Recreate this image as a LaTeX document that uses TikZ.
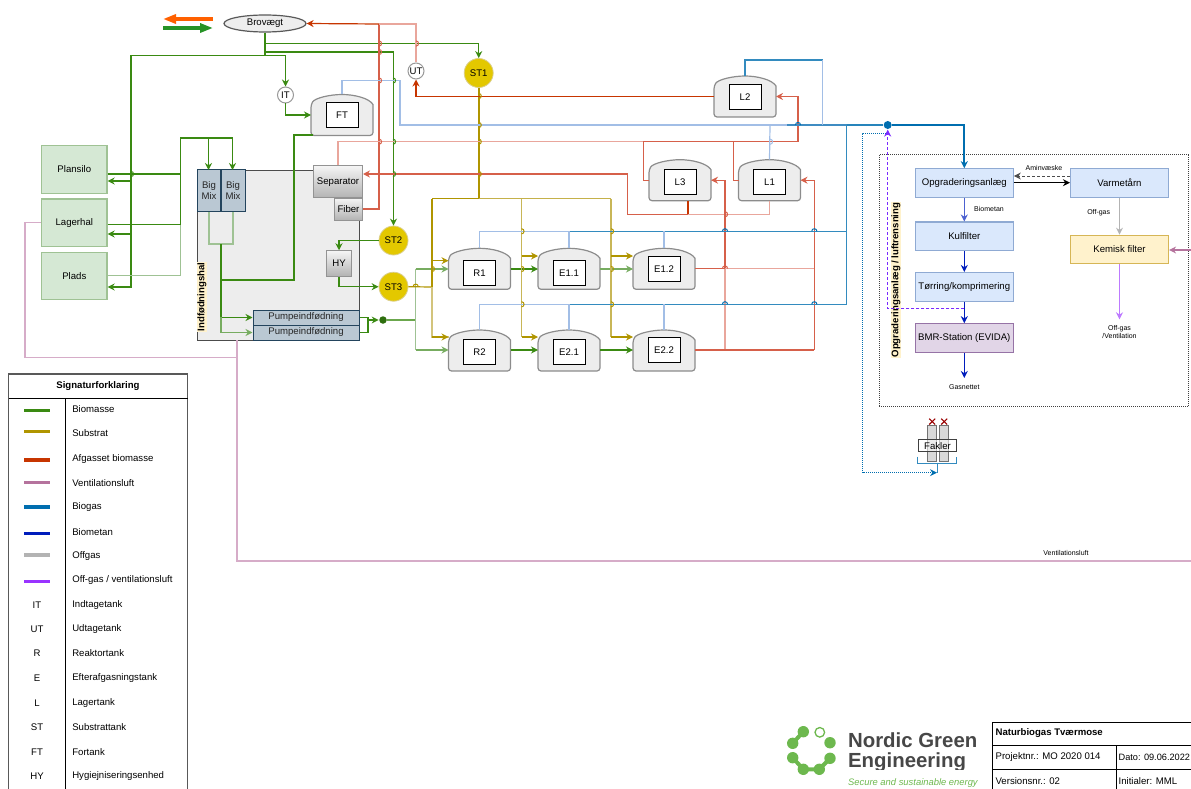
\documentclass[tikz,border=0pt]{standalone}
\usepackage{fontspec}
\setmainfont{Liberation Sans}
\usepackage{xcolor}
\usetikzlibrary{arrows.meta, positioning, shapes.geometric, calc}

\definecolor{biom}{HTML}{3A8A12}
\definecolor{biomp}{HTML}{9FC294}
\definecolor{subs}{HTML}{B09500}
\definecolor{subsp}{HTML}{D3C47C}
\definecolor{afg}{HTML}{C73500}
\definecolor{afgm}{HTML}{D6604A}
\definecolor{afgp}{HTML}{E9A69C}
\definecolor{vent}{HTML}{B5739D}
\definecolor{ventp}{HTML}{D6ACC8}
\definecolor{bgas}{HTML}{006EAF}
\definecolor{bgasm}{HTML}{3F8CC2}
\definecolor{bgasp}{HTML}{A2BEE6}
\definecolor{bmet}{HTML}{001DBC}
\definecolor{ogas}{HTML}{B3B3B3}
\definecolor{opur}{HTML}{9933FF}
\definecolor{ngreen}{HTML}{6DB84E}
\definecolor{pumpf}{HTML}{BAC8D3}
\definecolor{pumpd}{HTML}{23445D}
\definecolor{upf}{HTML}{DAE8FC}
\definecolor{upd}{HTML}{8FAAD3}
\definecolor{stf}{HTML}{E3C800}
\definecolor{silof}{HTML}{D5E8D4}
\definecolor{bmrf}{HTML}{E1D5E7}
\definecolor{bmrd}{HTML}{9673A6}
\definecolor{kemf}{HTML}{FFF2CC}
\definecolor{kemd}{HTML}{D6B656}

\newcommand{\tank}[5]{%
  \node[tankbody] (#1) at (#2,#3) {};
  \begin{scope}[shift={(#2,#3)}]
    \draw[tankline] (-31,-10.5) .. controls (-27,-17) and (-12,-20.5) .. (0,-20.5)
      .. controls (12,-20.5) and (27,-17) .. (31,-10.5)
      [rounded corners=3] -- (31,20.5) -- (-31,20.5) -- cycle;
    \node[tanklabel] (#1label) at (0,#5) {#4};
  \end{scope}
}

\tikzset{
  pics/hopv/.style={code={\draw[pic actions] (0,-2.6) .. controls (3.4,-2.6) and (3.4,2.6) .. (0,2.6);}},
  pics/hoph/.style={code={\draw[pic actions] (-2.6,0) .. controls (-2.6,-3.4) and (2.6,-3.4) .. (2.6,0);}},
}

\begin{document}
\begin{tikzpicture}[x=1pt, y=-1pt, line width=1.2pt,
    txt/.style={font=\fontsize{9.6}{11}\selectfont},
    smalltxt/.style={font=\fontsize{7}{8}\selectfont},
    silo/.style={draw=biomp, line width=1.2pt, fill=silof, txt,
      minimum width=65.5, minimum height=47.5},
    mixbox/.style={draw=pumpd, fill=pumpf, line width=1pt, txt,
      align=center, inner sep=0pt, text=black!85},
    greybox/.style={draw=gray!85, line width=1pt, top color=black!4, bottom color=black!30,
      txt, inner sep=0pt},
    upgrade/.style={draw=upd, fill=upf, line width=1.1pt, txt,
      minimum width=98, minimum height=28.6, inner sep=0pt},
    sttank/.style={circle, draw=subs!45, fill=stf, line width=0.8pt, txt,
      minimum size=29, inner sep=0pt},
    small/.style={circle, draw=gray!80, fill=white, line width=1pt, txt,
      minimum size=16, inner sep=0pt},
    tankbody/.style={minimum width=62, minimum height=41, inner sep=0pt, outer sep=0pt},
    tankline/.style={draw=gray!90, fill=black!7, line width=1.2pt},
    tanklabel/.style={draw=black, fill=white, line width=1pt, txt,
      minimum width=32, minimum height=25, inner sep=0pt},
    arr/.style={-{Stealth[length=7pt, width=7pt]}},
    hall/.style={fill=kemf, font=\fontsize{9.6}{11}\selectfont\bfseries,
      rotate=90, inner sep=0.6pt},
  ]
  \useasboundingbox (0,0) rectangle (1191,789);

  % Indfoedningshal
  \node[draw=black!70, fill=black!7, line width=1pt, minimum width=162, minimum height=170,
    inner sep=0pt] (hal) at (278,255) {};
  \node[hall] (hallabel) at (202,297) {Indfødningshal};

  % Silos
  \node[silo] (plansilo) at (74.3,169.5) {Plansilo};
  \node[silo] (lagerhal) at (74.3,222.7) {Lagerhal};
  \node[silo] (plads) at (74.3,276) {Plads};

  % Brovaegt and direction marks
  \node[ellipse, draw=black!65, fill=black!7, line width=1.2pt, txt, minimum width=82, minimum height=17,
    inner sep=0pt] (bro) at (265,23.5) {Brovægt};
  \coordinate (udA) at (213,19);
  \coordinate (udB) at (163,19);
  \coordinate (indA) at (163,28);
  \coordinate (indB) at (213,28);
  \draw[-{Triangle[length=13pt, width=9pt]}, orange!75!red, line width=3.2pt] (udA) -- (udB);
  \draw[-{Triangle[length=13pt, width=9pt]}, green!50!black!85, line width=3.2pt] (indA) -- (indB);

  % Indfoedning
  \node[mixbox, minimum width=23.7, minimum height=41.5] (mix1) at (209,190.7) {Big\\Mix};
  \node[mixbox, minimum width=24, minimum height=41.5] (mix2) at (233,190.7) {Big\\Mix};
  \node[greybox, minimum width=49, minimum height=32.5] (sep) at (338,181.7) {Separator};
  \node[greybox, minimum width=28, minimum height=22] (fiber) at (348.5,209) {Fiber};
  \node[greybox, minimum width=25, minimum height=25.5] (hy) at (339,263.5) {HY};
  \node[mixbox, minimum width=106, minimum height=15] (pump1) at (306,317.5) {Pumpeindfødning};
  \node[mixbox, minimum width=106, minimum height=15] (pump2) at (306,332.5) {Pumpeindfødning};
  \node[circle, fill=biom!80!black, inner sep=0pt, minimum size=7.5] (biodot) at (383,320) {};

  % Tanks
  \node[small] (it) at (285.5,95) {IT};
  \node[small] (ut) at (416,71) {UT};
  \node[sttank] (st1) at (478.7,73) {ST1};
  \node[sttank] (st2) at (393.5,240.5) {ST2};
  \node[sttank] (st3) at (393.5,286.7) {ST3};
  \tank{ft}{342}{115}{FT}{0}
  \tank{l2}{745}{96.5}{L2}{0.5}
  \tank{l3}{680}{180.2}{L3}{1.5}
  \tank{l1}{769.5}{180.2}{L1}{1.5}
  \tank{r1}{479.5}{268.8}{R1}{4.4}
  \tank{e11}{569}{268.8}{E1.1}{4.4}
  \tank{e12}{664}{268.8}{E1.2}{0.2}
  \tank{r2}{479.5}{350.5}{R2}{1.3}
  \tank{e21}{569}{350.5}{E2.1}{1.3}
  \tank{e22}{664}{350.5}{E2.2}{-0.5}

  % Opgraderingsanlaeg
  \node[draw=black!75, densely dotted, line width=1pt, minimum width=309.4, minimum height=252.4,
    inner sep=0pt] (frame) at (1034,280.5) {};
  \node[upgrade] (opg) at (964.3,183) {Opgraderingsanlæg};
  \node[upgrade] (varme) at (1119.5,183) {Varmetårn};
  \node[upgrade] (kul) at (964.3,236.3) {Kulfilter};
  \node[upgrade] (toer) at (964.3,286.8) {Tørring/komprimering};
  \node[upgrade, draw=bmrd, fill=bmrf] (bmr) at (964.3,338) {BMR-Station (EVIDA)};
  \node[upgrade, draw=kemd, fill=kemf] (kemisk) at (1119.5,249.5) {Kemisk filter};
  \node[hall] (opglabel) at (896,280) {Opgraderingsanlæg / luftrensning};
  \node[circle, fill=bgas, inner sep=0pt, minimum size=8] (gasdot) at (887.7,125) {};

  % Fakler
  \foreach \xc/\nm in {932.2/a, 944.2/b} {
    \node[draw=black!55, fill=black!15, minimum width=9, minimum height=36.5,
      inner sep=0pt, line width=0.9pt] (cyl\nm) at (\xc,443.3) {};
    \draw[red!60!black, line width=1.1pt] (\xc-3,418.7) -- (\xc+3,424.5) (\xc+3,418.7) -- (\xc-3,424.5);
  }
  \node[draw=black!75, fill=white, fill opacity=0.55, text opacity=1, line width=1pt, txt, minimum width=37.6, minimum height=11.7,
    inner sep=0pt] (fakler) at (937.5,445.8) {Fakler};
  \coordinate (fakbund) at (937,472.7);
  \draw[bgas!80, line width=1pt] (917.7,456.7) |- (956.3,463) -- (956.3,456.7);
  \draw[bgas!80, line width=1pt] (937,463) -- (fakbund);
  \draw[arr, bgas, densely dotted, line width=1pt] (gasdot.south |- 0,133.3) -| (862.7,472.7) -- (fakbund);

  % Biomasse
  \draw[biom, line width=1.8pt] (bro.south) -- (265,55.5);
  \draw[arr, biom, line width=1.6pt] (265,55.5) -| (131,287) -- (plads.east |- 0,287);
  \draw[arr, biom, line width=1.3pt] (131,181) -- (plansilo.east |- 0,181);
  \draw[arr, biom, line width=1.3pt] (131,234) -- (lagerhal.east |- 0,234);
  \draw[arr, biom] (265,55.5) -| (it.north);
  \draw[arr, biom, line width=1.5pt] (265,43.5) -| (st1.north);
  \draw[arr, biom, line width=1.5pt] (265,52) -| (st2.north);
  \draw[arr, biom] (it.south) |- (ft.west);
  \draw[biom] (ft.south west) ++(2,-0.5) -| (294,280) -- (221,280);
  \draw[biom] (plansilo.east |- 0,174) -- (180.5,174);
  \draw[biom] (lagerhal.east |- 0,224.5) -- (180.5,224.5);
  \draw[biomp] (plads.east |- 0,275.5) -| (180.5,224.5);
  \draw[biom] (180.5,224.5) |- (232.5,138);
  \draw[arr, biom] (208.5,138) -- (208.5,170);
  \draw[arr, biom] (232.5,138) -- (232.5,170);
  \draw[biomp] (mix1.south) |- (221,244) -| (mix2.south);
  \draw[biom] (221,244) -- (221,280);
  \draw[arr, biom] (221,280) |- (pump1.west);
  \draw[arr, biomp!60!biom] (221,317) |- (pump2.west);
  \draw[arr, biom] (st2.west) -| (hy.north);
  \draw[arr, biom] (hy.south) |- (st3.west);
  \draw[biom] (pump1.east) -- (368,317.5) -- (368,332.5) -- (pump2.east);
  \draw[arr, biom] (368,320) -- (biodot.west);
  \draw[biom!75] (biodot.east) -- (415.7,320);
  \draw[biomp] (415.7,269) -- (415.7,350);
  \draw[arr, biomp!60!biom] (415.7,269) -- (r1.west |- 0,269);
  \draw[arr, biomp!60!biom] (415.7,350) -- (r2.west |- 0,350);
  \draw[arr, biom] (r1.east |- 0,269) -- (e11.west |- 0,269);
  \draw[arr, biomp!60!biom] (e11.east |- 0,269) -- (e12.west |- 0,269);
  \draw[arr, biom] (r2.east |- 0,350) -- (e21.west |- 0,350);
  \draw[arr, biom] (e21.east |- 0,350) -- (e22.west |- 0,350);

  % Substrat
  \draw[subs, line width=1.6pt] (st1.south) -- (478.7,198.7);
  \draw[subs, line width=1.4pt] (432,198.7) -- (478.7,198.7);
  \draw[subsp!60!subs, line width=1.4pt] (478.7,198.7) -- (611,198.7);
  \draw[subs] (432,198.7) -- (432,287);
  \draw[subs] (st3.east) -- (432,287);
  \draw[subsp] (432,287) |- (r2.west |- 0,337);
  \draw[arr, subs] (432,337) -- (r2.west |- 0,337);
  \draw[arr, subs] (432,260.7) -- (r1.west |- 0,260.7);
  \draw[subsp!70!subs] (521.5,198.7) -- (521.5,337);
  \draw[arr, subs] (521.5,337) -- (e21.west |- 0,337);
  \draw[arr, subs] (521.5,256) -- (e11.west |- 0,256);
  \draw[subsp!70!subs] (611,198.7) -- (611,337);
  \draw[arr, subs] (611,337) -- (e22.west |- 0,337);
  \draw[arr, subs] (611,256) -- (e12.west |- 0,256);

  % Afgasset biomasse
  \draw[afgm] (fiber.east) -| (379,24);
  \draw[arr, afg] (379,24) -- (bro.east);
  \draw[afgp] (ut.north) |- (379,24);
  \draw[arr, afg] (l2.west) -| (ut.south);
  \draw[afgp, line width=1.4pt] (sep.north) |- (643,141.7);
  \draw[afgm, line width=1.4pt] (643,141.7) -- (798,141.7);
  \draw[arr, afgm, line width=1.6pt] (798,141.7) |- (l2.east);
  \draw[afgm, line width=1pt] (643,141.7) |- (l3.west);
  \draw[afgm, line width=1pt] (733,141.7) |- (l1.west);
  \draw[arr, afgm, line width=1.5pt] (627.7,174) -- (sep.east |- 0,174);
  \draw[afgm, line width=1.3pt] (627.7,174) |- (688,214.3);
  \draw[afg] (688,214.3) -- (l3.south -| 688,0);
  \draw[afgp] (688,214.3) -| (l1.south);
  \draw[afgp] (725,350) -- (725,268.5);
  \draw[afgm, line width=1.4pt] (725,268.5) -- (725,214.3);
  \draw[arr, afgm, line width=1.3pt] (725,214.3) |- (l3.east);
  \draw[afgm] (e12.east |- 0,268.5) -- (725,268.5);
  \draw[afgp] (725,268.5) -- (814.3,268.5);
  \draw[afgm] (e22.east |- 0,350) -- (814.3,350);
  \draw[afgm] (814.3,350) -- (814.3,268.5);
  \draw[arr, afgm, line width=1.3pt] (814.3,268.5) |- (l1.east);

  % Biogas
  \draw[bgasp] (ft.north) |- (400,80.5) |- (787,125);
  \draw[bgasp] (l1.north) -- (770,125);
  \draw[bgasm] (787,125) -- (846.7,125);
  \draw[bgas!80, line width=1.3pt] (l2.north) |- (822.7,60);
  \draw[bgasp] (822.7,60) -- (822.7,125);
  \draw[bgas!85, line width=1.5pt] (846.7,125) -- (gasdot.west);
  \draw[arr, bgas, line width=1.7pt] (gasdot.east) -| (opg.north);
  \draw[bgas!80] (846.7,125) -- (846.7,304.3) -- (569,304.3);
  \draw[bgas!80] (846.7,231.3) -- (569,231.3);
  \draw[bgasp] (569,231.3) -| (r1.north);
  \draw[bgasp] (569,304.3) -| (r2.north);
  \foreach \nm/\yl in {e11/231.3, e12/231.3, e21/304.3, e22/304.3}
    \draw[bgasp] (\nm.north) -- (\nm.north |- 0,\yl);

  % Ventilationsluft
  \draw[ventp] (lagerhal.west) -| (25,357.5) -- (237,357.5);
  \draw[ventp] (237,340) -- (237,561) -- (1191,561);
  \node[smalltxt] (ventlabel) at (1066,552.5) {Ventilationsluft};
  \coordinate (ventind) at (1191,250);
  \draw[arr, vent] (ventind) -- (kemisk.east |- ventind);

  % Biometan, offgas
  \draw[arr, bmet!70, line width=1.4pt] (opg.south) -- (kul.north);
  \draw[arr, bmet, line width=1.4pt] (kul.south) -- (toer.north);
  \draw[arr, bmet, line width=1.4pt] (toer.south) -- (bmr.north);
  \coordinate (gasnet) at (964.3,378);
  \draw[arr, bmet, line width=1.4pt] (bmr.south) -- (gasnet);
  \node[smalltxt, below=3pt of gasnet] (gasnetlabel) {Gasnettet};
  \node[smalltxt] (metanlabel) at (989,209) {Biometan};
  \draw[arr, black!70, densely dashed, line width=1pt] (varme.west |- 0,176) -- (opg.east |- 0,176);
  \draw[arr, black, line width=1pt] (opg.east |- 0,182.7) -- (varme.west |- 0,182.7);
  \node[smalltxt] (aminlabel) at (1044,167.5) {Aminvæske};
  \draw[arr, ogas, line width=1.7pt] (varme.south) -- (kemisk.north);
  \node[smalltxt] (offlabel) at (1098.7,213) {Off-gas};
  \coordinate (offud) at (1119.5,319.3);
  \draw[arr, opur!65, line width=1.7pt] (kemisk.south) -- (offud);
  \node[smalltxt, align=center, below=2pt of offud] (offudlabel) {Off-gas\\/Ventilation};
  \draw[arr, opur!80!blue, densely dashed, line width=1pt] (toer.south |- 0,308) -| (gasdot.south);

  % Hops
  \foreach \x/\y in {131/174, 393/80.5, 393/141.7, 393/174}
    \pic[biom, line width=1pt] at (\x,\y) {hopv};
  \foreach \x/\y in {379/43.5, 379/52, 379/80.5, 379/141.7, 416/43.5, 725/214.3}
    \pic[afgm, line width=1pt] at (\x,\y) {hopv};
  \foreach \x/\y in {478.7/96, 478.7/125, 478.7/141.7, 478.7/174, 432/269, 521.5/231.3, 521.5/269,
      521.5/304.3, 611/231.3, 611/269, 611/304.3}
    \pic[subs, line width=1pt] at (\x,\y) {hopv};
  \pic[subs, line width=1pt] at (415.7,286.7) {hoph};
  \foreach \x/\y in {798/125, 725/231.3, 814.3/231.3, 725/304.3, 814.3/304.3}
    \pic[bgas, line width=1pt] at (\x,\y) {hoph};
  \pic[bgasp, line width=1pt] at (770,141.7) {hopv};
  \pic[afgm, line width=1pt] at (725,268.5) {hoph};

  % Signaturforklaring
  \draw[black!65, line width=1.2pt] (8.7,795) |- (187.7,374) -- (187.7,795);
  \draw[black, line width=1pt] (8.7,398) -- (187.7,398);
  \draw[black, line width=1pt] (65.3,398) -- (65.3,795);
  \node[font=\fontsize{9.6}{11}\selectfont\bfseries] (sigtitle) at (98,386.5) {Signaturforklaring};
  \foreach \yb/\yt/\col/\navn in {410.7/409.3/biom/Biomasse, 431.7/433.3/subs/Substrat,
      460/458.7/afg/Afgasset biomasse, 482.3/482.7/vent/Ventilationsluft, 507/507/bgas/Biogas,
      533.3/532/bmet/Biometan, 555/556/ogas/Offgas, 581.3/580.3/opur/{Off-gas / ventilationsluft}} {
    \draw[\col, line width=3.2pt] (24.3,\yb) -- (50,\yb);
    \node[txt, anchor=west, inner sep=0pt] at (71.7,\yt) {\navn};
  }
  \foreach \yt/\kort/\navn in {605/IT/Indtagetank, 629/UT/Udtagetank, 653.3/R/Reaktortank,
      678.3/E/Efterafgasningstank, 702.7/L/Lagertank, 726.7/ST/Substrattank,
      751.7/FT/Fortank, 776/HY/Hygiejniseringsenhed} {
    \node[txt] at (37,\yt) {\kort};
    \node[txt, anchor=west, inner sep=0pt] at (71.7,\yt) {\navn};
  }

  % Logo
  \draw[ngreen, line width=4pt] (803.3,731.7) -- (792.7,743.3) (792.7,757.7) -- (803.3,769.3)
    -- (819.3,769.3) -- (830,758.3);
  \foreach \xc/\yc in {803.3/731.7, 792.7/743.3, 830/742.7, 792.7/757.7, 830/758.3, 803.3/769.3, 819.3/769.3}
    \fill[ngreen] (\xc,\yc) circle[radius=5.7];
  \draw[ngreen, line width=1.3pt] (819.8,732.3) circle[radius=4.8];
  \node[anchor=north west, inner sep=0pt, align=left, text=black!72,
    font=\fontsize{20.4}{20}\selectfont\bfseries] (logoA) at (847.5,732) {Nordic Green\\Engineering};
  \fill[white] (845,769.5) rectangle (985,778);
  \node[anchor=west, inner sep=0pt, text=ngreen, font=\fontsize{9.4}{11}\selectfont\itshape] (logoC) at (847.5,782.7) {Secure and sustainable energy};

  % Titelblok
  \draw[black, line width=1pt] (992.7,795) |- (1191,722);
  \draw[black, line width=1pt] (992.7,745) -- (1191,745) (992.7,769.3) -- (1191,769.3);
  \draw[black, line width=1pt] (1116.7,745) -- (1116.7,795);
  \node[anchor=west, inner sep=0pt, font=\fontsize{9.6}{11}\selectfont\bfseries] at (995,733.5) {Naturbiogas Tværmose};
  \node[txt, anchor=west, inner sep=0pt] at (995,757.5) {Projektnr.: MO 2020 014};
  \node[anchor=west, inner sep=0pt, font=\fontsize{9.2}{11}\selectfont] at (1118,757.5) {Dato: 09.06.2022};
  \node[txt, anchor=west, inner sep=0pt] at (995,781.5) {Versionsnr.: 02};
  \node[txt, anchor=west, inner sep=0pt] at (1118,781.5) {Initialer: MML};
\end{tikzpicture}
\end{document}
